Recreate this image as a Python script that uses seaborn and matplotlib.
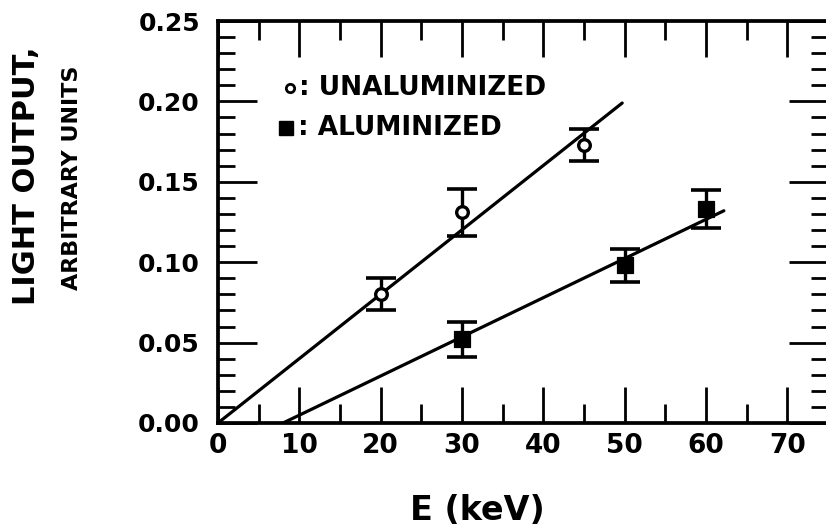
import numpy as np
import pandas as pd
import matplotlib
matplotlib.use("Agg")
import matplotlib.pyplot as plt
import seaborn as sns
from matplotlib.ticker import MultipleLocator

unal_e = [20, 30, 45]
unal_light = [0.080, 0.131, 0.173]
unal_err = [0.010, 0.0145, 0.010]

al_e = [30, 50, 60]
al_light = [0.052, 0.098, 0.133]
al_err = [0.011, 0.0105, 0.012]

# straight-line fits as drawn (end points)
fit_unal_e = [0, 49.7]
fit_unal_light = [0.0, 0.199]
fit_al_e = [8.0, 62.2]
fit_al_light = [0.0, 0.132]

x_ticks = [0, 10, 20, 30, 40, 50, 60, 70]
y_ticks = [0.00, 0.05, 0.10, 0.15, 0.20, 0.25]


def main():
    sns.set_theme(style="ticks")
    plt.rcParams["font.family"] = ["DejaVu Sans"]
    plt.rcParams["font.weight"] = "bold"
    plt.rcParams["text.color"] = "black"
    plt.rcParams["xtick.labelcolor"] = "black"
    plt.rcParams["ytick.labelcolor"] = "black"

    fig = plt.figure(figsize=(8.26, 5.32), dpi=100)
    ax = fig.add_axes([0.2639, 0.2049, 0.7385, 0.7556])

    fits = pd.DataFrame({
        "E": fit_unal_e + fit_al_e,
        "light": fit_unal_light + fit_al_light,
        "set": ["unal"] * 2 + ["al"] * 2,
    })
    sns.lineplot(data=fits, x="E", y="light", units="set", estimator=None,
                 color="black", linewidth=2.3, ax=ax, legend=False)

    ax.errorbar(unal_e, unal_light, yerr=unal_err, fmt="none", ecolor="black",
                elinewidth=2.4, capsize=11, capthick=2.6, zorder=3)
    ax.errorbar(al_e, al_light, yerr=al_err, fmt="none", ecolor="black",
                elinewidth=2.4, capsize=11, capthick=2.6, zorder=3)

    sns.scatterplot(x=unal_e, y=unal_light, marker="o", s=70, facecolor="white",
                    edgecolor="black", linewidth=2.4, ax=ax, zorder=4)
    sns.scatterplot(x=al_e, y=al_light, marker="s", s=120, color="black",
                    edgecolor="black", ax=ax, zorder=4)

    ax.set_xlim(0, 75)
    ax.set_ylim(0, 0.25)
    ax.set_xticks(x_ticks)
    ax.set_xticklabels([str(v) for v in x_ticks])
    ax.set_yticks(y_ticks)
    ax.set_yticklabels([f"{v:.2f}" for v in y_ticks])
    ax.xaxis.set_minor_locator(MultipleLocator(5))
    ax.yaxis.set_minor_locator(MultipleLocator(0.01))

    for side in ["left", "right", "top", "bottom"]:
        ax.spines[side].set_linewidth(2.7)
        ax.spines[side].set_color("black")

    ax.tick_params(which="both", direction="in", top=True, right=True,
                   color="black", width=2.0)
    ax.tick_params(axis="x", which="major", length=26, pad=7, labelsize=19)
    ax.tick_params(axis="x", which="minor", length=14)
    ax.tick_params(axis="y", which="major", length=28, pad=13, labelsize=18)
    ax.tick_params(axis="y", which="minor", length=12)
    ax.set_xlabel("")
    ax.set_ylabel("")

    # hand-lettered key
    ax.plot([0.118], [0.833], marker="o", ms=6, mfc="white", mec="black", mew=2,
            transform=ax.transAxes)
    ax.text(0.132, 0.833, ": UNALUMINIZED", transform=ax.transAxes,
            fontsize=19, va="center", ha="left")
    ax.plot([0.112], [0.734], marker="s", ms=10, color="black",
            transform=ax.transAxes)
    ax.text(0.131, 0.734, ": ALUMINIZED", transform=ax.transAxes,
            fontsize=19, va="center", ha="left")

    fig.text(0.578, 0.04, "E (keV)", fontsize=24, ha="center", va="center")
    fig.text(0.032, 0.67, "LIGHT OUTPUT,", fontsize=22, rotation=90,
             ha="center", va="center")
    fig.text(0.087, 0.665, "ARBITRARY UNITS", fontsize=16, rotation=90,
             ha="center", va="center")

    fig.savefig("out.png", dpi=100)


if __name__ == "__main__":
    main()
